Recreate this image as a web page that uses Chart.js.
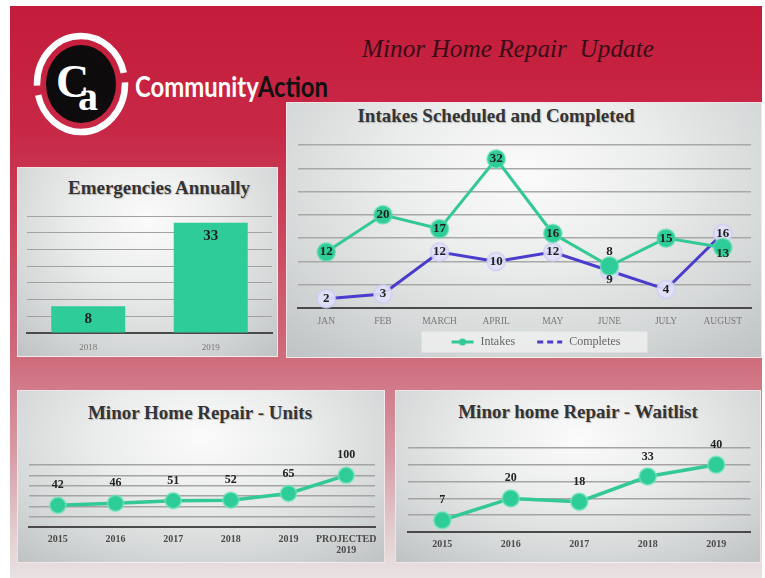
<!DOCTYPE html>
<html>
<head>
<meta charset="utf-8">
<script src="https://cdn.jsdelivr.net/npm/chart.js@4.4.1/dist/chart.umd.min.js"></script>
<style>
html,body{margin:0;padding:0;background:#fff;}
#wrap{position:relative;width:765px;height:578px;overflow:hidden;background:#fff;}
#bg{position:absolute;left:10px;top:6px;width:752px;height:572px;
  background:linear-gradient(to bottom,#c41c3a 0%,#c72846 22%,#cb4a60 42%,#cf6d7d 62%,#d79aa5 78%,#e2cdd0 92%,#e8e2e2 100%);}
.panel{position:absolute;box-sizing:border-box;border:1px solid rgba(255,236,240,0.75);
  background:radial-gradient(ellipse 75% 95% at 50% 28%,#fbfbfb 0%,#ebecec 38%,#d5d8d8 72%,#bfc3c3 100%);}
.ttl{position:absolute;width:400px;height:24px;line-height:24px;text-align:center;white-space:nowrap;
  font-family:"Liberation Serif","Times New Roman",serif;font-weight:bold;font-size:19px;color:#343434;
  text-shadow:1px 1px 1px rgba(0,0,0,0.22);}
canvas{position:absolute;}
</style>
</head>
<body>
<div id="wrap">
  <div id="bg"></div>
  <svg style="position:absolute;left:0;top:0" width="765" height="160">
    <ellipse cx="81" cy="84" rx="44" ry="48" fill="none" stroke="#fff" stroke-width="6.5" pathLength="360" stroke-dasharray="166 12 168 12"/>
    <ellipse cx="81" cy="84" rx="35" ry="39" fill="#0d0b0c"/>
    <text x="56" y="97" font-family="Liberation Serif" font-weight="bold" font-size="46" fill="#fff">C</text>
    <text x="78" y="110" font-family="Liberation Serif" font-weight="bold" font-size="40" fill="#fff">a</text>
    <text x="135" y="97" font-family="Lato" font-weight="bold" font-size="28" textLength="193" lengthAdjust="spacingAndGlyphs"><tspan fill="#ffffff">Community</tspan><tspan fill="#111111">Action</tspan></text>
    <text x="362" y="57" style="white-space:pre" font-family="Liberation Serif" font-style="italic" font-size="26" fill="#3a0c17" textLength="292" lengthAdjust="spacingAndGlyphs">Minor Home Repair  Update</text>
  </svg>

  <div class="panel" style="left:17px;top:167px;width:261px;height:190px;"></div>
  <div class="panel" style="left:286px;top:102px;width:476px;height:256px;"></div>
  <div class="panel" style="left:17px;top:390px;width:368px;height:173px;"></div>
  <div class="panel" style="left:395px;top:390px;width:366px;height:173px;"></div>

  <div class="ttl" style="left:-41px;top:176px;">Emergencies Annually</div>
  <div class="ttl" style="left:296px;top:104px;">Intakes Scheduled and Completed</div>
  <div class="ttl" style="left:0px;top:401px;">Minor Home Repair - Units</div>
  <div class="ttl" style="left:378px;top:400px;">Minor home Repair - Waitlist</div>

  <canvas id="c1" width="261" height="190" style="left:17px;top:167px;"></canvas>
  <canvas id="c2" width="476" height="256" style="left:286px;top:102px;"></canvas>
  <canvas id="c3" width="368" height="173" style="left:17px;top:390px;"></canvas>
  <canvas id="c4" width="366" height="173" style="left:395px;top:390px;"></canvas>
</div>
<script>
// ---- data ----
const emergencyYears = ['2018', '2019'];
const emergencyCounts = [8, 33];

const intakeMonths = ['JAN', 'FEB', 'MARCH', 'APRIL', 'MAY', 'JUNE', 'JULY', 'AUGUST'];
const intakesScheduled = [12, 20, 17, 32, 16, 9, 15, 13];
const intakesCompleted = [2, 3, 12, 10, 12, 8, 4, 16];

const unitYears = ['2015', '2016', '2017', '2018', '2019', ['PROJECTED', '2019']];
const unitCounts = [42, 46, 51, 52, 65, 100];

const waitlistYears = ['2015', '2016', '2017', '2018', '2019'];
const waitlistCounts = [7, 20, 18, 33, 40];

// ---- styling helpers ----
const SERIF = '"Liberation Serif", "Times New Roman", serif';
Chart.defaults.font.family = SERIF;
Chart.defaults.animation = false;
Chart.defaults.responsive = false;
Chart.defaults.plugins.tooltip.enabled = false;

const GREEN = '#2ecc98';

const valueLabels = {
  id: 'valueLabels',
  afterDatasetsDraw(chart, args, opts) {
    if (!opts || !opts.sets) return;
    const ctx = chart.ctx;
    ctx.save();
    ctx.textAlign = 'center';
    ctx.textBaseline = 'middle';
    opts.sets.forEach(s => {
      const meta = chart.getDatasetMeta(s.dataset);
      const data = chart.data.datasets[s.dataset].data;
      ctx.font = s.font;
      ctx.fillStyle = s.color;
      meta.data.forEach((el, i) => {
        const p = el.getProps(['x', 'y'], true);
        const dy = Array.isArray(s.dy) ? s.dy[i] : s.dy;
        ctx.fillText(String(data[i]), p.x, p.y + dy);
      });
    });
    ctx.restore();
  }
};

const legendBack = {
  id: 'legendBack',
  beforeDraw(chart, args, opts) {
    const lg = chart.legend;
    if (!lg || !lg.legendHitBoxes || !lg.legendHitBoxes.length) return;
    const hb = lg.legendHitBoxes;
    const l = Math.min(...hb.map(b => b.left)) - opts.padLeft;
    const r = Math.max(...hb.map(b => b.left + b.width)) + opts.padRight;
    const cy = hb[0].top + hb[0].height / 2;
    const ctx = chart.ctx;
    ctx.save();
    ctx.fillStyle = opts.color;
    ctx.fillRect(l, cy - opts.halfH, r - l, opts.halfH * 2);
    ctx.restore();
  }
};

function legendIcon(color, dashed, dot) {
  const c = document.createElement('canvas');
  c.width = 40; c.height = 10;
  const g = c.getContext('2d');
  g.strokeStyle = color; g.lineWidth = 3;
  if (dashed) g.setLineDash([6, 4]);
  g.beginPath();
  g.moveTo(dashed ? 14 : 17, 5); g.lineTo(39, 5); g.stroke();
  if (dot) { g.fillStyle = color; g.beginPath(); g.arc(28, 5, 3.5, 0, Math.PI * 2); g.fill(); }
  return c;
}

function yAxis(max, step, color, width) {
  return {
    min: 0, max: max,
    ticks: {display: false, stepSize: step},
    grid: {color: color, lineWidth: width, drawTicks: false},
    border: {display: false},
    afterFit(s) { s.width = 0; }
  };
}
function xAxis(h, pad, font, color) {
  return {
    offset: true,
    grid: {display: false, drawTicks: false},
    border: {display: true, color: '#4a4a4a', width: 2},
    ticks: {padding: pad, font: font, color: color, maxRotation: 0, autoSkip: false},
    afterFit(s) { s.height = h; }
  };
}

// ---- Emergencies Annually ----
new Chart(document.getElementById('c1'), {
  type: 'bar',
  data: {
    labels: emergencyYears,
    datasets: [{label: 'Emergencies', data: emergencyCounts, backgroundColor: GREEN,
      categoryPercentage: 0.604, barPercentage: 1}]
  },
  options: {
    layout: {padding: {top: 49, left: 10, right: 6, bottom: 0}},
    plugins: {
      legend: {display: false},
      valueLabels: {sets: [{dataset: 0, font: 'bold 15px ' + SERIF, color: '#1e1e1e', dy: 13}]}
    },
    scales: {x: xAxis(24, 9, {size: 9}, '#777'), y: yAxis(35, 5, '#a2a2a2', 1)}
  },
  plugins: [valueLabels]
});

// ---- Intakes Scheduled and Completed ----
const iconIntakes = legendIcon('#33c994', false, true);
const iconCompletes = legendIcon('#4a3ccc', true, false);
new Chart(document.getElementById('c2'), {
  type: 'line',
  data: {
    labels: intakeMonths,
    datasets: [
      {label: 'Intakes', data: intakesScheduled, borderColor: '#33c994', borderWidth: 3, tension: 0,
        pointRadius: 9, pointBackgroundColor: GREEN, pointBorderColor: 'rgba(90,220,170,0.55)', pointBorderWidth: 2, clip: false},
      {label: 'Completes', data: intakesCompleted, borderColor: '#4a3ccc', borderWidth: 3, tension: 0,
        pointRadius: 9, pointBackgroundColor: 'rgba(224,224,248,0.92)', pointBorderColor: 'rgba(205,205,245,0.7)', pointBorderWidth: 2, clip: false}
    ]
  },
  options: {
    layout: {padding: {top: 43, left: 12, right: 5, bottom: 0}},
    plugins: {
      legend: {
        position: 'bottom',
        labels: {
          usePointStyle: true, pointStyleWidth: 40, boxHeight: 10, padding: 8,
          font: {size: 12}, color: '#666',
          generateLabels(chart) {
            const items = Chart.defaults.plugins.legend.labels.generateLabels(chart);
            items.forEach((it, i) => { it.pointStyle = i === 0 ? iconIntakes : iconCompletes; });
            return items;
          }
        }
      },
      legendBack: {padLeft: 13, padRight: 27, halfH: 10.5, color: 'rgba(238,238,238,0.85)'},
      valueLabels: {sets: [
        {dataset: 0, font: 'bold 13px ' + SERIF, color: '#1e1e1e', dy: [0, 0, 0, 0, 0, 14, 0, 6]},
        {dataset: 1, font: 'bold 13px ' + SERIF, color: '#1e1e1e', dy: [0, 0, 0, 0, 0, -19, 0, 0]}
      ]}
    },
    scales: {x: xAxis(20, 8, {size: 9.5}, '#777'), y: yAxis(35, 5, '#a8a8a8', 1.5)}
  },
  plugins: [legendBack, valueLabels]
});

// ---- Minor Home Repair - Units ----
new Chart(document.getElementById('c3'), {
  type: 'line',
  data: {
    labels: unitYears,
    datasets: [{label: 'Units', data: unitCounts, borderColor: '#33c994', borderWidth: 3.5, tension: 0,
      pointRadius: 8, pointBackgroundColor: GREEN, pointBorderColor: 'rgba(120,230,190,0.6)', pointBorderWidth: 2, clip: false}]
  },
  options: {
    layout: {padding: {top: 75, left: 12, right: 4, bottom: 0}},
    plugins: {
      legend: {display: false},
      valueLabels: {sets: [{dataset: 0, font: 'bold 12px ' + SERIF, color: '#222', dy: -20}]}
    },
    scales: {x: xAxis(36, 7, {size: 10, weight: 'bold', lineHeight: 1.1}, '#4a4a4a'), y: yAxis(120, 20, '#a4a4a4', 1.5)}
  },
  plugins: [valueLabels]
});

// ---- Minor home Repair - Waitlist ----
new Chart(document.getElementById('c4'), {
  type: 'line',
  data: {
    labels: waitlistYears,
    datasets: [{label: 'Waitlist', data: waitlistCounts, borderColor: '#33c994', borderWidth: 3.5, tension: 0,
      pointRadius: 8.5, pointBackgroundColor: GREEN, pointBorderColor: 'rgba(120,230,190,0.6)', pointBorderWidth: 2, clip: false}]
  },
  options: {
    layout: {padding: {top: 58, left: 13, right: 3, bottom: 0}},
    plugins: {
      legend: {display: false},
      valueLabels: {sets: [{dataset: 0, font: 'bold 12px ' + SERIF, color: '#222', dy: -20}]}
    },
    scales: {x: xAxis(31, 6.5, {size: 10, weight: 'bold', lineHeight: 1.1}, '#4a4a4a'), y: yAxis(50, 10, '#a4a4a4', 1.5)}
  },
  plugins: [valueLabels]
});
</script>
</body>
</html>
